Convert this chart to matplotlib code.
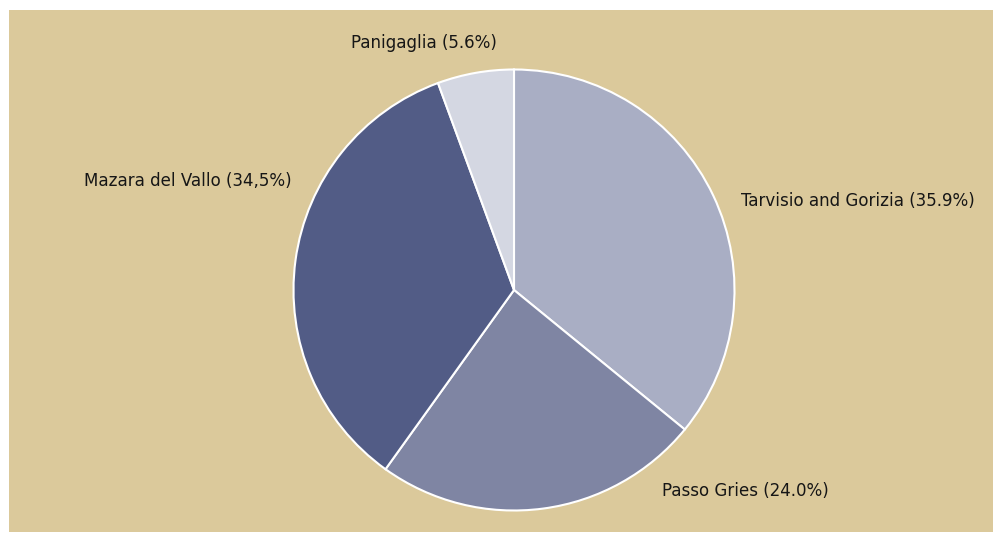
import matplotlib
matplotlib.use("Agg")
import matplotlib.pyplot as plt
from matplotlib.patches import Rectangle

# Data
terminals = ["Tarvisio and Gorizia", "Passo Gries", "Mazara del Vallo", "Panigaglia"]
shares = [35.9, 24.0, 34.5, 5.6]
share_labels = ["35.9%", "24.0%", "34,5%", "5.6%"]
colors = ["#a9aec4", "#7f85a3", "#525c86", "#d4d7e2"]

W, H = 998, 539
cx, cy, r = 514, 290, 220.5   # pie centre / radius in pixels

fig = plt.figure(figsize=(W / 100, H / 100), dpi=100)
fig.patch.set_facecolor("white")
ax = fig.add_axes([0, 0, 1, 1])
ax.set_facecolor("none")

# tan panel
panel = Rectangle((9 / W, (H - 532) / H), (993 - 9) / W, (532 - 10) / H,
                  transform=fig.transFigure, facecolor="#dbc99b",
                  edgecolor="none", zorder=0, clip_on=False)
ax.add_patch(panel)

ax.pie(shares, colors=colors, startangle=90, counterclock=False, radius=1,
       wedgeprops=dict(edgecolor="white", linewidth=1.5, zorder=2))

ax.set_xlim(-cx / r, (W - cx) / r)
ax.set_ylim((cy - H) / r, cy / r)
ax.set_aspect("auto")
ax.axis("off")

# label anchor positions (data units, pie radius = 1)
pos = [(1.03, 0.405, "left"), (0.672, -0.912, "left"),
       (-1.007, 0.494, "right"), (-0.41, 1.12, "center")]
for name, lab, (x, y, ha) in zip(terminals, share_labels, pos):
    ax.text(x, y, f"{name} ({lab})", ha=ha, va="center", fontsize=13.3,
            family=["DejaVu Sans"], fontstretch="condensed", color="#161616")

fig.savefig("out.png", dpi=100)
